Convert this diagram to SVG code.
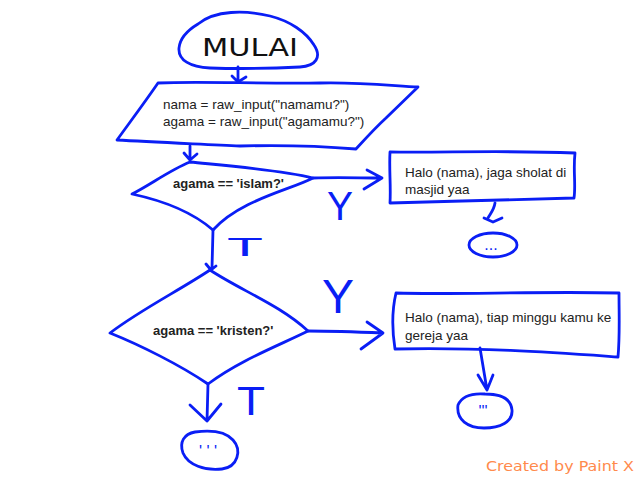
<svg xmlns="http://www.w3.org/2000/svg" width="640" height="480" viewBox="0 0 640 480">
<style>
.s{fill:none;stroke:#0a1ef5;stroke-width:2.8;stroke-linecap:round;stroke-linejoin:round}
.t{font-family:"Liberation Sans",Arial,sans-serif;font-size:13.5px;fill:#222}
.b{font-family:"Liberation Sans",Arial,sans-serif;font-size:13px;font-weight:bold;fill:#222}
.h{font-family:"Liberation Sans",Arial,sans-serif;fill:#0a1ef5}
</style>
<rect width="640" height="480" fill="#fff"/>
<g id="mulai">
<path class="s" d="M198,24 C215,10 245,10 270,16 C290,21 306,32 314,45 C322,57 316,66 300,67 C280,68 240,69 210,68 C190,67 178,60 179,48 C180,38 188,30 198,24 Z"/>
<text x="250" y="56" text-anchor="middle" style="font-family:'DejaVu Sans',sans-serif;font-size:24px;fill:#111" textLength="96" lengthAdjust="spacingAndGlyphs">MULAI</text>
</g>
<g id="input">
<path class="s" d="M158,83 C200,81 260,84 320,83 C360,82 395,86 418,87 L386,118 C375,128 366,138 356,149 C320,146 280,145 240,146 C200,144 150,142 117,140 C130,122 145,102 158,83 Z"/>
<text class="t" x="163" y="109">nama = raw_input("namamu?")</text>
<text class="t" x="163" y="126">agama = raw_input("agamamu?")</text>
</g>
<g id="islam">
<path class="s" d="M190,162 C230,166 280,170 313,178 C290,190 240,200 213,230 C190,210 160,200 132,194 C150,185 170,170 190,162 Z"/>
<text class="b" x="173" y="188">agama == 'islam?'</text>
</g>
<g id="out1">
<path class="s" d="M390,152 C440,153 500,150 575,153 C573,170 576,185 574,198 C520,200 450,201 390,203 C391,185 389,170 390,152 Z"/>
<text class="t" x="405" y="177">Halo (nama), jaga sholat di</text>
<text class="t" x="405" y="194">masjid yaa</text>
</g>
<g id="end1">
<ellipse class="s" cx="493" cy="245" rx="24" ry="12"/>
<text class="h" x="491" y="250" text-anchor="middle" style="font-size:16px">...</text>
</g>
<g id="kristen">
<path class="s" d="M210,270 C240,290 280,305 308,331 C280,345 240,360 208,384 C180,365 140,345 110,333 C140,310 180,290 210,270 Z"/>
<text class="b" x="153" y="335">agama == 'kristen?'</text>
</g>
<g id="out2">
<path class="s" d="M396,293 C450,295 540,291 619,293 C619,315 620,335 618,357 C560,353 480,347 395,349 C392,330 392,310 396,293 Z"/>
<text class="t" x="405" y="322">Halo (nama), tiap minggu kamu ke</text>
<text class="t" x="405" y="340">gereja yaa</text>
</g>
<g id="end2">
<path class="s" d="M458,405 C462,396 472,393 485,394 C500,394 511,398 512,410 C513,422 500,428 484,428 C468,428 456,420 458,405 Z"/>
<text class="h" x="483" y="417" text-anchor="middle" style="font-size:16px">'''</text>
</g>
<g id="end3">
<path class="s" d="M195,432 C210,430 225,431 233,440 C242,450 238,467 222,469 C205,471 188,465 183,453 C179,442 184,434 195,432 Z"/>
<text class="h" x="208" y="457" text-anchor="middle" style="font-size:16px">' ' '</text>
</g>
<g id="connectors">
<path class="s" d="M238,67 L238,82 M232,76 L238,82 L246,77"/>
<path class="s" d="M190,146 L190,160 M184,153 L190,160 L197,154"/>
<path class="s" d="M313,178 C340,177 360,178 382,178 M367,170 L382,178 L364,189"/>
<path class="s" d="M495,203 C494,210 490,214 488,218 M484,218 L493,222 L502,218"/>
<path class="s" d="M213,230 L212,268 M206,264 L211,270 L216,266"/>
<path class="s" d="M308,331 C330,331 360,332 383,333 M367,322 L383,333 L361,349"/>
<path class="s" d="M480,348 L487,390 M478,375 L487,390 L493,375"/>
<path class="s" d="M208,384 L207,421 M190,405 L207,421 L221,404"/>
</g>
<g id="labels">
<text class="h" x="340" y="220" text-anchor="middle" style="font-size:41px" textLength="26" lengthAdjust="spacingAndGlyphs">Y</text>
<text class="h" x="245" y="256" text-anchor="middle" style="font-size:25px" textLength="36" lengthAdjust="spacingAndGlyphs">T</text>
<text class="h" x="338" y="313" text-anchor="middle" style="font-size:48px" textLength="32" lengthAdjust="spacingAndGlyphs">Y</text>
<text class="h" x="251" y="415" text-anchor="middle" style="font-size:41px" textLength="28" lengthAdjust="spacingAndGlyphs">T</text>
</g>
<text x="486" y="471" style="font-family:'DejaVu Sans',Verdana,sans-serif;font-size:14px;fill:#ff8a4c" textLength="148" lengthAdjust="spacingAndGlyphs">Created by Paint X</text>
</svg>
